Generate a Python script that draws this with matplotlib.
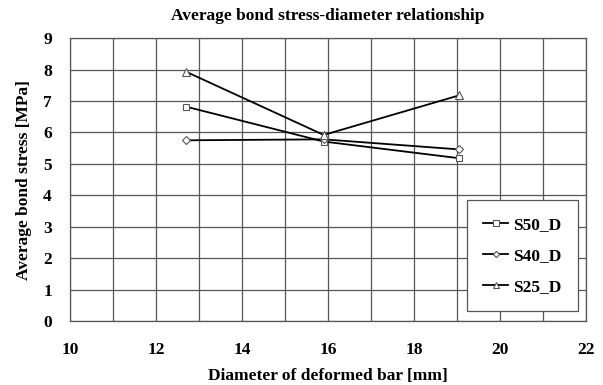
import matplotlib.pyplot as plt

diameter = [12.7, 15.9, 19.05]
s50 = [6.82, 5.71, 5.18]
s40 = [5.75, 5.78, 5.46]
s25 = [7.93, 5.92, 7.18]

plt.rcParams['font.family'] = ['Liberation Serif', 'DejaVu Serif']
plt.rcParams['font.weight'] = 'bold'

fig = plt.figure(figsize=(6.03, 3.85), dpi=100)
ax = fig.add_axes([0.116, 0.166, 0.856, 0.735])

ms = dict(markerfacecolor='white', markeredgecolor='#555555', markeredgewidth=0.8, color='black', linewidth=1.3)
ax.plot(diameter, s50, marker='s', markersize=5, label='S50_D', **ms)
ax.plot(diameter, s40, marker='D', markersize=4, label='S40_D', **ms)
ax.plot(diameter, s25, marker='^', markersize=6, label='S25_D', **ms)

ax.set_xlim(10, 22)
ax.set_ylim(0, 9)
ax.set_xticks(range(10, 23, 2))
ax.set_xticks(range(10, 23), minor=True)
ax.set_yticks(range(0, 10))
ax.grid(True, which='both', color='#555555', linewidth=0.9)
ax.tick_params(which='both', length=0, labelsize=12.5)
ax.tick_params(axis='x', pad=15)
ax.tick_params(axis='y', pad=13)
for lab in ax.get_xticklabels() + ax.get_yticklabels():
    lab.set_fontweight('bold')
for sp in ax.spines.values():
    sp.set_color('#555555')
    sp.set_linewidth(0.9)

ax.set_title('Average bond stress-diameter relationship', fontsize=12.5, fontweight='bold', pad=13)
ax.set_xlabel('Diameter of deformed bar [mm]', fontsize=12.5, fontweight='bold', labelpad=7)
ax.set_ylabel('Average bond stress [MPa]', fontsize=12.5, fontweight='bold', labelpad=8)

leg = ax.legend(loc='lower right', bbox_to_anchor=(0.984, 0.035), borderaxespad=0, fontsize=12.5,
                handlelength=1.4, handletextpad=0.3, labelspacing=0.85, borderpad=0.95,
                fancybox=False, framealpha=1, edgecolor='#555555', markerscale=0.8)
leg.get_frame().set_linewidth(0.9)
for t in leg.get_texts():
    t.set_fontweight('bold')

fig.savefig('out.png', dpi=100)
